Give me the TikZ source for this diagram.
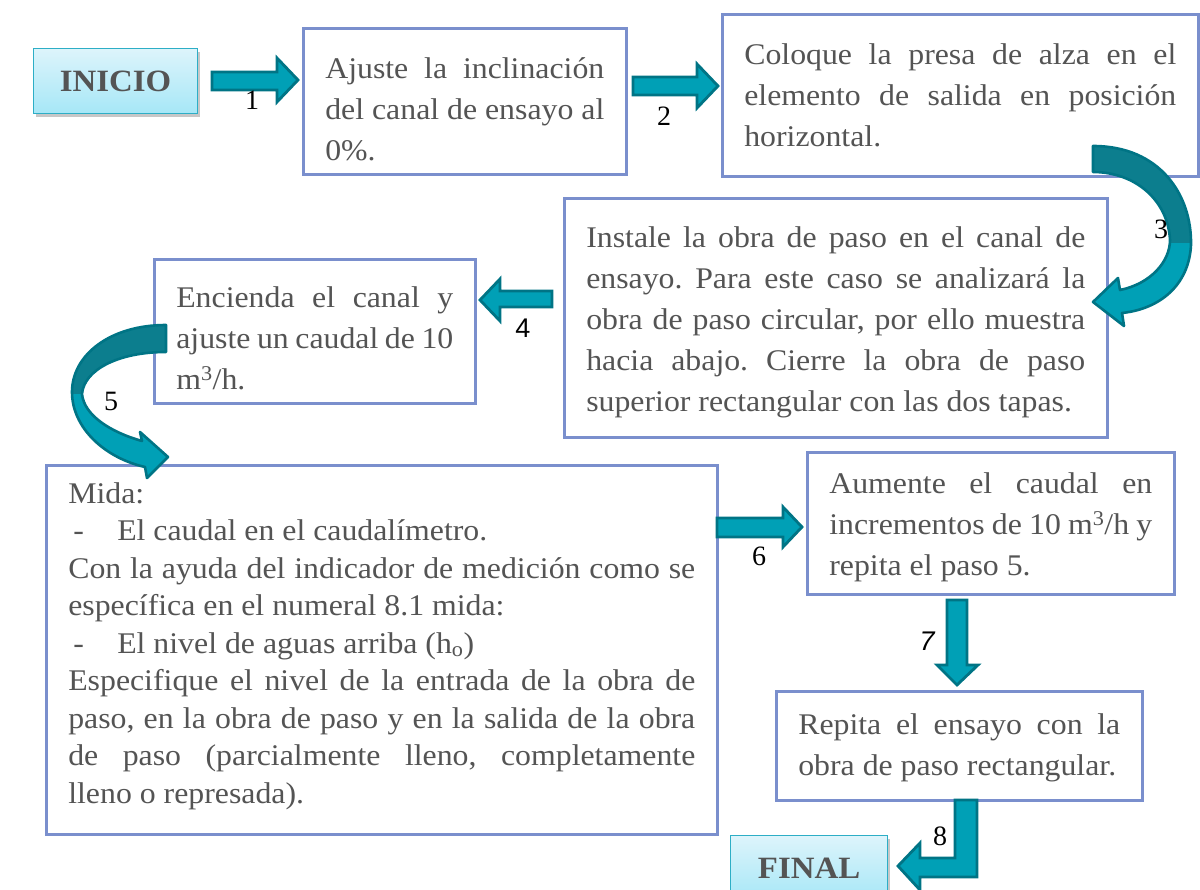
\documentclass[tikz,border=0pt]{standalone}
\usepackage{fontspec}
\setmainfont[FakeStretch=1.06]{Liberation Serif}
\newfontfamily\labserif{Liberation Serif}
\newfontfamily\labsans{Liberation Sans}
\usetikzlibrary{shadows}
\setlength{\parindent}{0pt}
\frenchspacing
\definecolor{txt}{HTML}{545454}
\definecolor{boxline}{HTML}{7A8FCD}
\definecolor{arrfill}{HTML}{00A0B6}
\definecolor{arrdark}{HTML}{007485}
\definecolor{arrshade}{HTML}{0C7E8E}
\definecolor{termtop}{HTML}{DDF4FB}
\definecolor{termbot}{HTML}{A6E7F7}
\definecolor{termline}{HTML}{2DAEC6}
\tikzset{
 stepbox/.style={draw=boxline, line width=2.6pt, fill=white, rectangle, anchor=north west, inner sep=0pt},
 steptext/.style={inner sep=0pt, align=justify, text=txt, font=\frenchspacing\fontsize{30}{41}\selectfont},
 termbox/.style={draw=termline, line width=1.2pt, top color=termtop, bottom color=termbot,
   anchor=north west, text=txt, font=\fontsize{31}{36}\selectfont\bfseries,
   drop shadow={shadow xshift=2pt, shadow yshift=-3pt, opacity=0.22, fill=black}},
 blockarrow/.style={fill=arrfill, draw=arrdark, line width=2.8pt, line join=miter},
 numlab/.style={font=\labserif\fontsize{28}{28}\selectfont, text=black, inner sep=0pt},
 sanslab/.style={font=\labsans\fontsize{27}{27}\selectfont, text=black, inner sep=0pt},
}
\begin{document}
\begin{tikzpicture}[x=1pt,y=-1pt]
\useasboundingbox (0,0) rectangle (1200,890);

% terminals
\node[termbox, minimum width=164pt, minimum height=65pt] (inicio) at (33,48) {INICIO};
\node[termbox, minimum width=157pt, minimum height=65pt] (final) at (730,835) {FINAL};

% step boxes (frames)
\node[stepbox, minimum width=323pt, minimum height=146pt] (s1) at (302,27) {};
\node[stepbox, minimum width=476pt, minimum height=162pt] (s2) at (721,13) {};
\node[stepbox, minimum width=543pt, minimum height=239pt] (s3) at (563,197) {};
\node[stepbox, minimum width=321pt, minimum height=144pt] (s4) at (153,258) {};
\node[stepbox, minimum width=671pt, minimum height=369pt] (s5) at (45,464) {};
\node[stepbox, minimum width=367pt, minimum height=142pt] (s6) at (806,451) {};
\node[stepbox, minimum width=366pt, minimum height=109pt] (s7) at (775,690) {};

% step texts
\node[steptext, text width=279pt] (t1) at ([yshift=-8pt]s1.center)
 {Ajuste la inclinación\linebreak del canal de ensayo al\linebreak 0\%.};
\node[steptext, text width=432pt] (t2) at (s2.center)
 {Coloque la presa de alza en el\linebreak elemento de salida en posición\linebreak horizontal.};
\node[steptext, text width=499pt] (t3) at ([yshift=-5pt]s3.center)
 {Instale la obra de paso en el canal de\linebreak ensayo. Para este caso se analizará la\linebreak obra de paso circular, por ello muestra\linebreak hacia abajo. Cierre la obra de paso\linebreak superior rectangular con las dos tapas.};
\node[steptext, text width=277pt] (t4) at ([yshift=-7pt]s4.center)
 {Encienda el canal y\linebreak ajuste un caudal de 10\linebreak m\textsuperscript{3}/h.};
\node[steptext, text width=627pt, font=\frenchspacing\fontsize{30}{37.5}\selectfont] (t5) at ([yshift=4pt]s5.center)
 {Mida:\par
  \hspace*{5pt}\makebox[44pt][l]{-}El caudal en el caudalímetro.\par
  Con la ayuda del indicador de medición como se\linebreak específica en el numeral 8.1 mida:\par
  \hspace*{5pt}\makebox[44pt][l]{-}El nivel de aguas arriba (h\textsubscript{o})\par
  Especifique el nivel de la entrada de la obra de\linebreak paso, en la obra de paso y en la salida de la obra\linebreak de paso (parcialmente lleno, completamente\linebreak lleno o represada).};
\node[steptext, text width=323pt] (t6) at ([yshift=-4pt]s6.center)
 {Aumente el caudal en\linebreak incrementos de 10 m\textsuperscript{3}/h y\linebreak repita el paso 5.};
\node[steptext, text width=322pt] (t7) at ([yshift=-2pt]s7.center)
 {Repita el ensayo con la\linebreak obra de paso rectangular.};

% straight block arrows
\draw[blockarrow] (212,72) -- (277,72) -- (277,58) -- (298,80) -- (277,102) -- (277,90) -- (212,90) -- cycle;
\draw[blockarrow] (633,77) -- (697,77) -- (697,64) -- (718,86) -- (697,108) -- (697,95) -- (633,95) -- cycle;
\draw[blockarrow] (552,291) -- (500,291) -- (500,279) -- (480,300) -- (500,321) -- (500,307) -- (552,307) -- cycle;
\draw[blockarrow] (717,518) -- (783,518) -- (783,507) -- (802,527) -- (783,547) -- (783,537) -- (717,537) -- cycle;
\draw[blockarrow] (947,600) -- (967,600) -- (967,665) -- (978,665) -- (957,685) -- (937,665) -- (947,665) -- cycle;
\draw[blockarrow] (955,800) -- (977,800) -- (977,877) -- (920,877) -- (920,890) -- (898,866) -- (920,843) -- (920,858) -- (955,858) -- cycle;

% curved arrow 3
\def\arrowthree{(1093,146) .. controls (1160,146) and (1192,195) .. (1191,245)
  .. controls (1189,285) and (1160,309) .. (1122,313) -- (1124,326) -- (1093,302) -- (1118,278) -- (1120,290)
  .. controls (1150,284) and (1170,262) .. (1170,240) .. controls (1168,200) and (1135,172) .. (1093,172) -- cycle}
\fill[arrfill] \arrowthree;
\begin{scope}
 \clip (1050,100) rectangle (1250,243);
 \fill[arrshade] \arrowthree;
\end{scope}
\draw[arrdark, line width=2.6pt, line join=round] \arrowthree;

% curved arrow 5
\def\arrowfive{(166,325) .. controls (110,325) and (72,355) .. (72,392)
  .. controls (72,428) and (105,458) .. (145,467) -- (147,478) -- (168,457) -- (140,432) -- (142,441)
  .. controls (110,432) and (84,415) .. (82,394) .. controls (84,370) and (118,352) .. (166,352) -- cycle}
\fill[arrfill] \arrowfive;
\begin{scope}
 \clip (40,300) rectangle (200,394);
 \fill[arrshade] \arrowfive;
\end{scope}
\draw[arrdark, line width=2.6pt, line join=round] \arrowfive;

% labels
\node[numlab] (l1) at (252,100) {1};
\node[numlab] (l2) at (664,116) {2};
\node[numlab] (l3) at (1161,229) {3};
\node[sanslab] (l4) at (523,328) {4};
\node[numlab] (l5) at (111,401) {5};
\node[numlab] (l6) at (759,556) {6};
\node[sanslab] (l7) at (927,641) {\itshape 7};
\node[numlab] (l8) at (940,836) {8};
\end{tikzpicture}
\end{document}
